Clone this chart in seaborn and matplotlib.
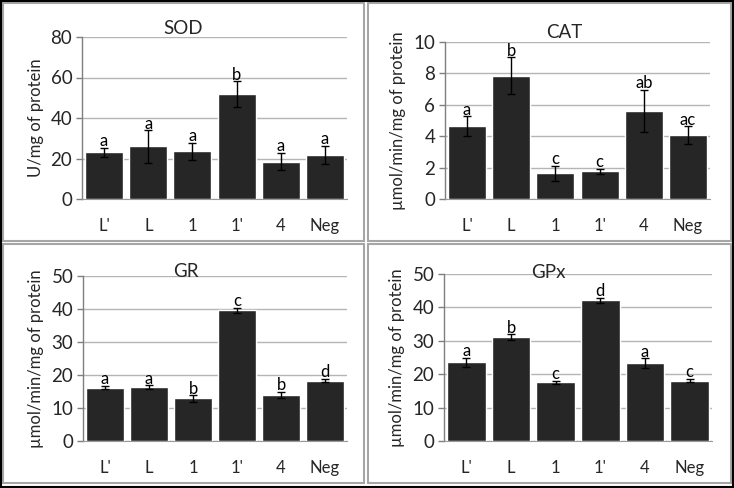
import matplotlib
matplotlib.use("Agg")
import matplotlib.pyplot as plt
import seaborn as sns
import pandas as pd
import numpy as np
from matplotlib.patches import Rectangle

sns.set_style("white")
plt.rcParams['font.family'] = ['Lato', 'DejaVu Sans']

groups = ["L'", "L", "1", "1'", "4", "Neg"]

sod_mean = [23.0, 26.0, 23.5, 51.7, 18.4, 21.7]
sod_err = [2.2, 8.0, 4.2, 6.5, 4.3, 4.6]
sod_letters = ["a", "a", "a", "b", "a", "a"]

cat_mean = [4.63, 7.86, 1.63, 1.76, 5.60, 4.08]
cat_err = [0.63, 1.16, 0.50, 0.15, 1.36, 0.55]
cat_letters = ["a", "b", "c", "c", "ab", "ac"]

gr_mean = [16.2, 16.4, 12.9, 39.6, 13.9, 18.3]
gr_err = [0.5, 0.5, 1.0, 0.8, 1.0, 0.5]
gr_letters = ["a", "a", "b", "c", "b", "d"]

gpx_mean = [23.6, 31.0, 17.6, 42.1, 23.4, 18.1]
gpx_err = [1.4, 0.9, 0.5, 0.7, 1.4, 0.5]
gpx_letters = ["a", "b", "c", "d", "a", "c"]

W, H = 734, 488
fig = plt.figure(figsize=(W / 100, H / 100), dpi=100)

def frac(x0, x1, ytop, ybot):
    return [x0 / W, 1 - ybot / H, (x1 - x0) / W, (ybot - ytop) / H]

panels = [
    dict(name="SOD", mean=sod_mean, err=sod_err, letters=sod_letters,
         ylabel="U/mg of protein", ymax=80, step=20,
         rect=frac(82, 347, 37, 199), tx=0.38, ty=1.05),
    dict(name="CAT", mean=cat_mean, err=cat_err, letters=cat_letters,
         ylabel="µmol/min/mg of protein", ymax=10, step=2,
         rect=frac(445, 710, 42, 199), tx=0.45, ty=1.06),
    dict(name="GR", mean=gr_mean, err=gr_err, letters=gr_letters,
         ylabel="µmol/min/mg of protein", ymax=50, step=10,
         rect=frac(83, 347, 276, 441), tx=0.39, ty=1.03),
    dict(name="GPx", mean=gpx_mean, err=gpx_err, letters=gpx_letters,
         ylabel="µmol/min/mg of protein", ymax=50, step=10,
         rect=frac(444, 712, 274, 441), tx=0.39, ty=1.01),
]

for p in panels:
    ax = fig.add_axes(p["rect"])
    df = pd.DataFrame({"group": groups, "value": p["mean"]})
    sns.barplot(data=df, x="group", y="value", ax=ax, color="#262626",
                saturation=1, width=0.86, errorbar=None, zorder=3)
    ax.errorbar(np.arange(len(groups)), p["mean"], yerr=p["err"], fmt="none",
                ecolor="black", elinewidth=1.0, capsize=3, capthick=1.0, zorder=4)
    for i, (m, e, l) in enumerate(zip(p["mean"], p["err"], p["letters"])):
        ax.annotate(l, (i, m + e), xytext=(0, -1), textcoords="offset points",
                    ha="center", va="bottom", fontsize=12, color="black", zorder=5)
    ax.set_ylim(0, p["ymax"])
    ax.set_xlim(-0.5, len(groups) - 0.5)
    ax.set_yticks(np.arange(0, p["ymax"] + 0.001, p["step"]))
    ax.yaxis.grid(True, color="#b5b5b5", linewidth=1.0, zorder=0)
    ax.xaxis.grid(False)
    ax.set_axisbelow(True)
    for s in ["top", "right"]:
        ax.spines[s].set_visible(False)
    ax.spines["left"].set_color("#7f7f7f")
    ax.spines["bottom"].set_color("#9a9a9a")
    ax.spines["left"].set_linewidth(1.0)
    ax.tick_params(axis="y", which="major", left=True, length=4, width=1,
                   color="#7f7f7f", labelsize=13.5, pad=3)
    ax.tick_params(axis="x", bottom=False, labelsize=12, pad=10)
    ax.set_xlabel("")
    ax.set_ylabel(p["ylabel"], fontsize=12, labelpad=5)
    ax.text(p["tx"], p["ty"], p["name"], transform=ax.transAxes, ha="center",
            va="center", fontsize=13.5)

# panel frames
def frame(x0, y0, x1, y1, color, lw):
    fig.patches.append(Rectangle((x0 / W, 1 - y1 / H), (x1 - x0) / W, (y1 - y0) / H,
                                 transform=fig.transFigure, fill=False,
                                 edgecolor=color, linewidth=lw, zorder=10))

frame(3, 3, 364, 241, "#a6a6a6", 1.5)
frame(368, 3, 731, 241, "#a6a6a6", 1.5)
frame(3, 244, 364, 483, "#a6a6a6", 1.5)
frame(368, 244, 731, 483, "#a6a6a6", 1.5)
frame(1, 1, 733, 487, "black", 1.5)

fig.savefig("out.png", dpi=100)
